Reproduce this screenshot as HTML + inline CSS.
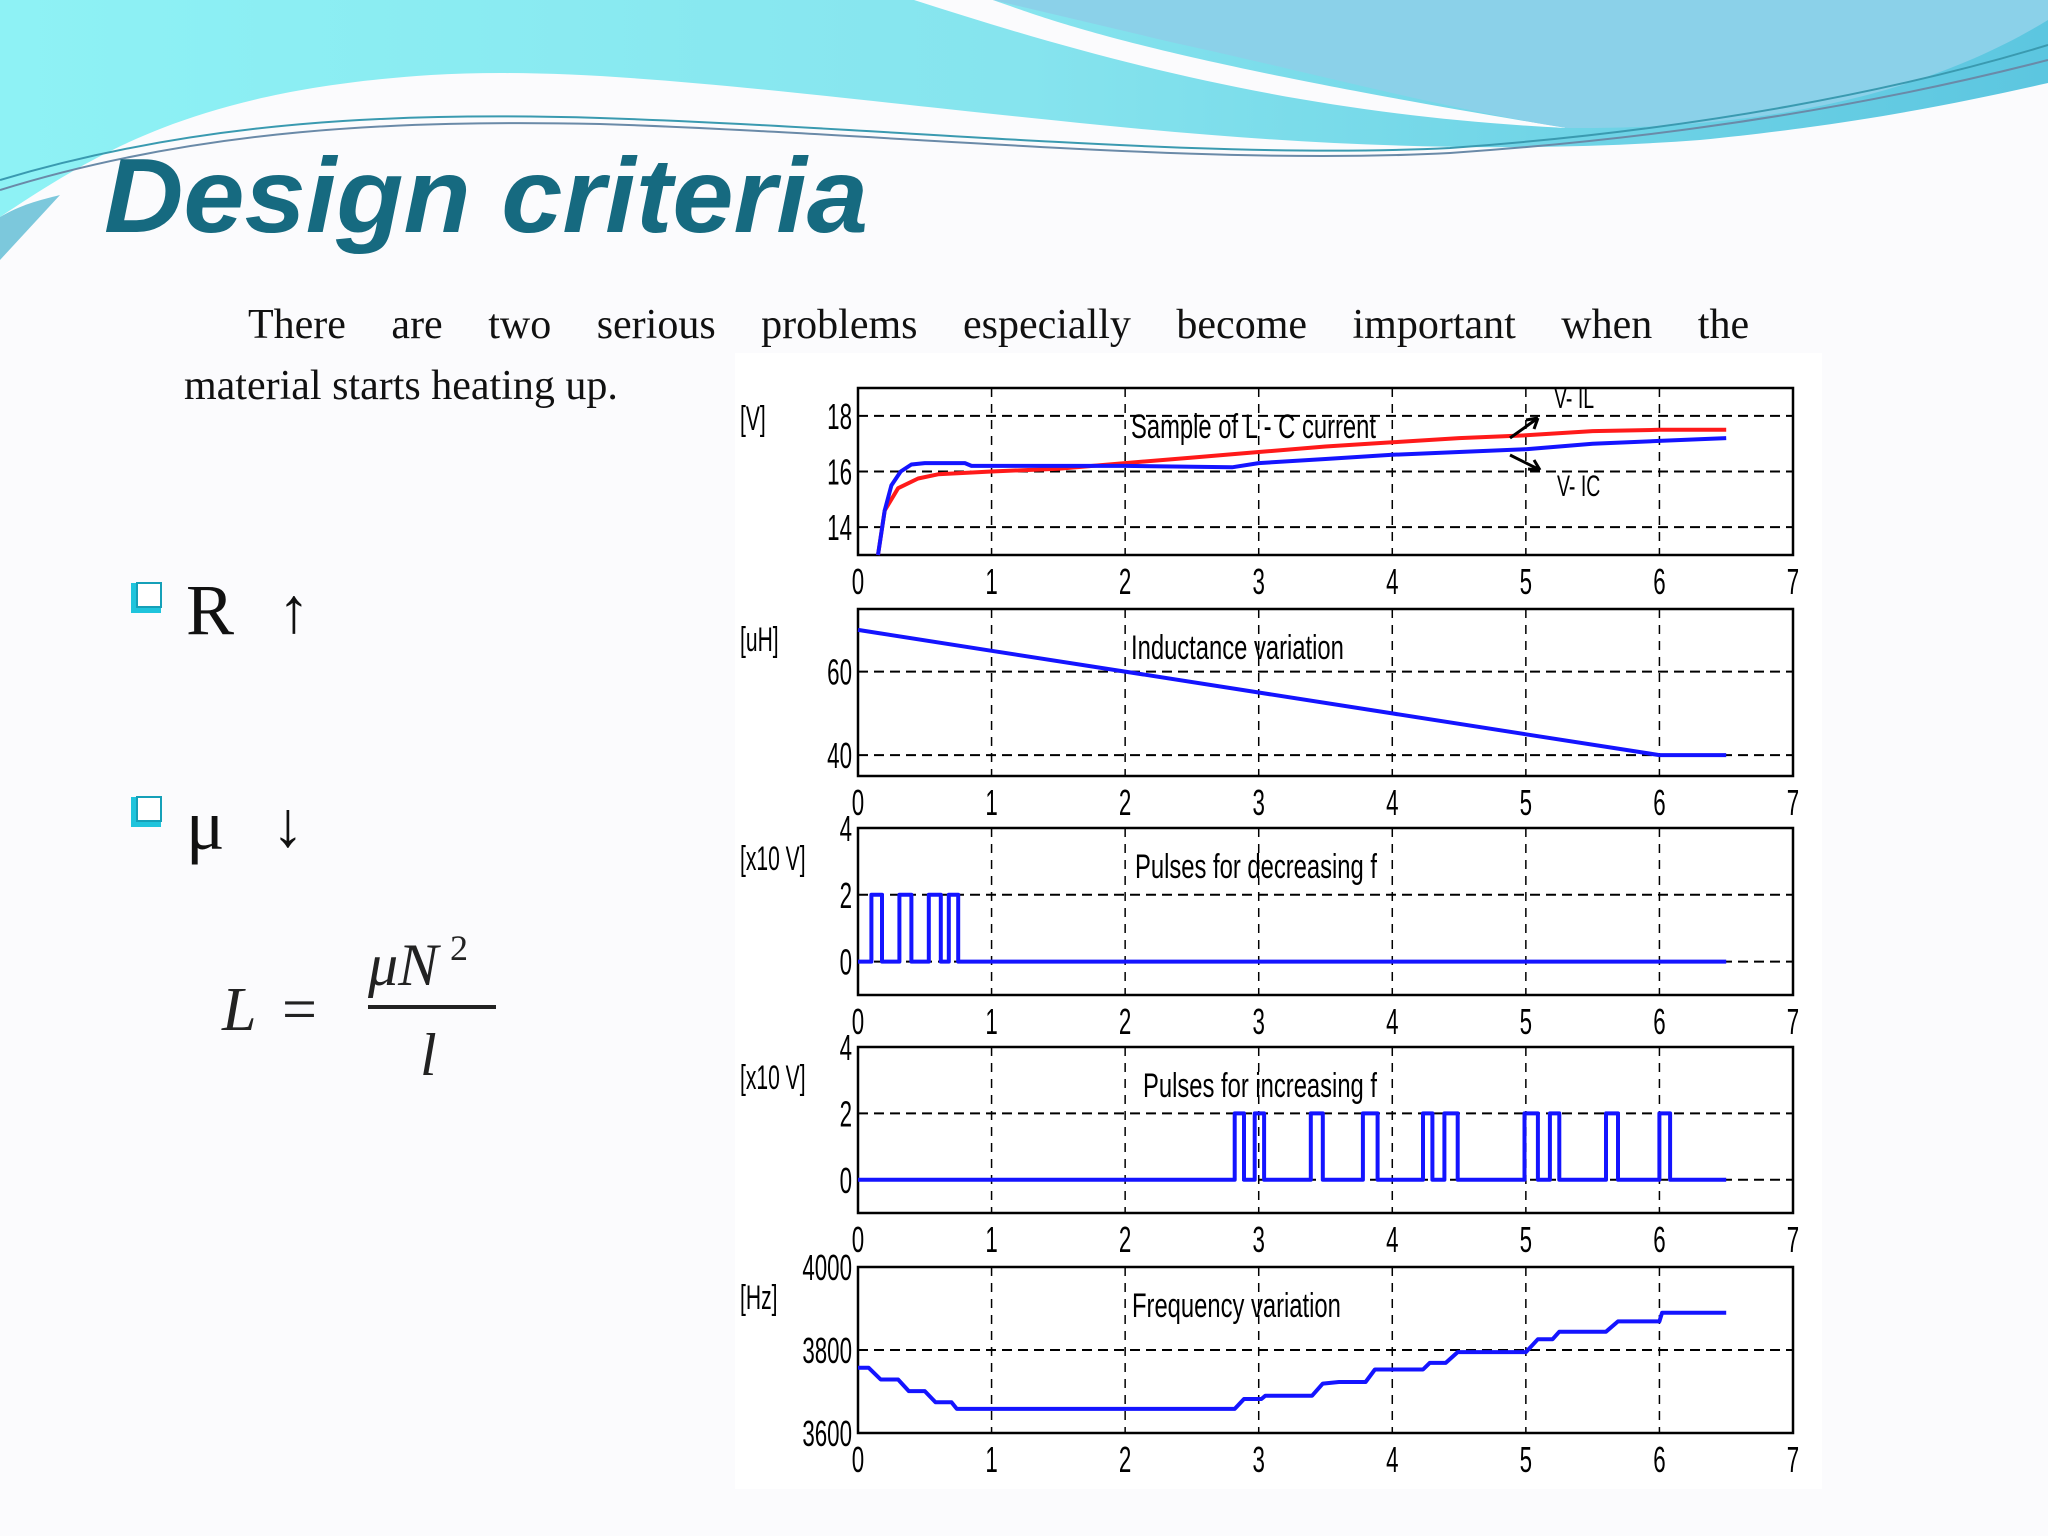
<!DOCTYPE html>
<html><head><meta charset="utf-8"><style>
html,body{margin:0;padding:0;background:#fbfbfd;}
svg{display:block;}
.t{font-family:"Liberation Sans",sans-serif;}
</style></head><body>
<svg id="page" width="2048" height="1536" viewBox="0 0 2048 1536" xmlns="http://www.w3.org/2000/svg">
<defs>
<linearGradient id="cy" x1="0" y1="0" x2="1" y2="0"><stop offset="0" stop-color="#8ef2f5"/><stop offset="0.5" stop-color="#86e4ee"/><stop offset="1" stop-color="#5cc6e0"/></linearGradient>
</defs>
<rect width="2048" height="1536" fill="#fbfbfd"/>
<g>
<path d="M0,0 L2048,0 L2048,83 C1950,105 1850,125 1700,140 C1500,155 1300,145 1100,125 C800,95 600,65 431,75 C200,90 100,150 0,217 Z" fill="url(#cy)"/>
<path d="M914,0 L993,0 C1050,20 1150,60 1567,128 C1300,115 1100,60 914,0 Z" fill="#fbfbfd"/>
<path d="M993,0 L2048,0 L2048,20 C1950,80 1800,130 1567,128 C1450,110 1300,70 1175,43 Z" fill="#8bd1e9"/>
<path d="M0,180 C200,120 400,112 600,118 C900,128 1200,160 1450,148 C1700,130 1900,90 2048,45" fill="none" stroke="#3a9ab0" stroke-width="2"/>
<path d="M0,190 C200,128 400,120 600,124 C900,134 1200,166 1450,153 C1700,136 1900,98 2048,60" fill="none" stroke="#6a8aa8" stroke-width="2"/>
<path d="M0,217 C20,205 40,200 60,195 L0,260 Z" fill="#7cc8dc"/>
</g>
<text x="104" y="232" font-family="Liberation Sans, sans-serif" font-weight="bold" font-style="italic" font-size="106" fill="#166a80" textLength="764" lengthAdjust="spacingAndGlyphs">Design criteria</text>
<text x="248" y="338" font-family="Liberation Serif, serif" font-size="42" fill="#111" word-spacing="35">There are two serious problems especially become important when the</text>
<text x="184" y="399" font-family="Liberation Serif, serif" font-size="42" fill="#111">material starts heating up.</text>
<g>
<rect x="131" y="583" width="30" height="30" fill="#1fc4dc"/><rect x="137" y="583" width="24" height="24" fill="#fff" stroke="#15a0b8" stroke-width="2"/>
<text x="186" y="634" font-family="Liberation Serif, serif" font-size="72" fill="#111">R</text>
<text x="278" y="632" font-family="Liberation Serif, serif" font-size="64" fill="#111">↑</text>
</g>
<g>
<rect x="131" y="797" width="30" height="30" fill="#1fc4dc"/><rect x="137" y="797" width="24" height="24" fill="#fff" stroke="#15a0b8" stroke-width="2"/>
<text x="186" y="849" font-family="Liberation Serif, serif" font-size="72" fill="#111">μ</text>
<text x="272" y="846" font-family="Liberation Serif, serif" font-size="64" fill="#111">↓</text>
</g>
<g font-family="Liberation Serif, serif" font-style="italic" fill="#222">
<text x="222" y="1030" font-size="62">L</text>
<text x="282" y="1030" font-size="62" font-style="normal">=</text>
<text x="368" y="985" font-size="60">μN</text>
<text x="450" y="960" font-size="36" font-style="normal">2</text>
<rect x="368" y="1005" width="128" height="4" fill="#222"/>
<text x="420" y="1075" font-size="60">l</text>
</g>
<rect x="735" y="353" width="1087" height="1136" fill="#fff"/>
<g id="charts"></g>
</svg>
<script>
// ---- data ----
const xTicks = [0,1,2,3,4,5,6,7];
const ilT = [0.15,0.2,0.3,0.45,0.6,0.8,1.0,1.5,2.0,2.5,3.0,3.5,4.0,4.5,5.0,5.5,6.0,6.5];
const ilV = [13.0,14.6,15.4,15.75,15.9,15.95,16.0,16.1,16.3,16.5,16.7,16.9,17.05,17.2,17.3,17.45,17.5,17.5];
const icT = [0.15,0.2,0.25,0.32,0.4,0.5,0.8,0.85,1.5,2.0,2.8,3.0,3.5,4.0,4.5,5.0,5.5,6.0,6.5];
const icV = [13.0,14.6,15.5,16.0,16.25,16.3,16.3,16.2,16.2,16.2,16.15,16.3,16.45,16.6,16.7,16.8,17.0,17.1,17.2];
const indT = [0,1,2,3,4,5,6,6.5];
const indV = [70,65,60,55,50,45,40,40];
const decPulses = [[0.1,0.18],[0.31,0.40],[0.53,0.62],[0.68,0.75]];
const incPulses = [[2.82,2.89],[2.97,3.04],[3.39,3.48],[3.78,3.89],[4.23,4.30],[4.39,4.49],[4.99,5.09],[5.18,5.25],[5.60,5.69],[6.00,6.08]];
const freqT = [0,0.08,0.17,0.3,0.38,0.5,0.58,0.7,0.74,2.82,2.89,3.02,3.05,3.4,3.48,3.6,3.8,3.87,4.23,4.28,4.4,4.49,5.0,5.09,5.2,5.25,5.6,5.69,6.0,6.02,6.5];
const freqV = [3757,3757,3729,3729,3701,3701,3674,3674,3658,3658,3682,3682,3690,3690,3719,3723,3723,3753,3753,3769,3769,3795,3795,3826,3826,3844,3844,3869,3869,3890,3890];

const NS = 'http://www.w3.org/2000/svg';
const root = document.getElementById('charts');
const X0 = 858, X1 = 1793, XMAX = 7;
function sx(v){ return X0 + (X1 - X0) * v / XMAX; }
function mk(tag, attrs, parent){ const e = document.createElementNS(NS, tag); for (const k in attrs) e.setAttribute(k, attrs[k]); (parent||root).appendChild(e); return e; }
function txt(parent, x, y, s, size, sc, anchor){
  const e = mk('text', {x:0, y:0, 'font-size':size, class:'t', 'text-anchor':anchor||'start', transform:'translate(' + x + ',' + y + ') scale(' + sc + ',1)'}, parent);
  e.textContent = s;
  return e;
}

function makePlot(name, top, bot, ymin, ymax, yTicks, yLabels, unit, title, tx){
  const g = mk('g', {});
  
  
  const sy = v => bot - (bot - top) * (v - ymin) / (ymax - ymin);
  xTicks.forEach(t => {
    if (t > 0 && t < 7) { const l = mk('line', {x1:sx(t), x2:sx(t), y1:top, y2:bot, stroke:'#000', 'stroke-width':1.5, 'stroke-dasharray':'9 7'}, g);
        }
    const tl = txt(g, sx(t), bot + 39, String(t), 36, 0.62, 'middle');
     
  });
  yTicks.forEach((t, i) => {
    if (t > ymin && t < ymax) { const l = mk('line', {x1:X0, x2:X1, y1:sy(t), y2:sy(t), stroke:'#000', 'stroke-width':2, 'stroke-dasharray':'10 6'}, g);
        }
    const tl = txt(g, X0 - 6, sy(t) + 13, yLabels[i], 36, 0.62, 'end');
     
  });
  const fr = mk('rect', {x:X0, y:top, width:X1-X0, height:bot-top, fill:'none', stroke:'#000', 'stroke-width':2.5}, g);
   
  const u = txt(g, 740, top + 42, unit, 34, 0.62);
   
  const tt = txt(g, tx, top + 50, title, 34, 0.7);
   
  return {g, sy};
}
function line(p, ts, vs, color, name, w){
  const pts = ts.map((t, i) => sx(t).toFixed(1) + ',' + p.sy(vs[i]).toFixed(1)).join(' ');
  const l = mk('polyline', {points:pts, fill:'none', stroke:color, 'stroke-width':w||4, 'stroke-linejoin':'round'}, p.g);
   
}
function pulses(p, list, name){
  const ts = [0], vs = [0];
  list.forEach(([a, b]) => { ts.push(a, a, b, b); vs.push(0, 2, 2, 0); });
  ts.push(6.5); vs.push(0);
  line(p, ts, vs, '#1414ff', name, 4);
}

// plot 1
const p1 = makePlot('lc-current-plot', 388, 555, 13, 19, [14,16,18], ['14','16','18'], '[V]', 'Sample of L - C current', 1131);
line(p1, ilT, ilV, '#ff1a1a', 'series-v-il');
line(p1, icT, icV, '#1414ff', 'series-v-ic');
const a1 = txt(p1.g, 1554, 408, 'V- IL', 30, 0.65);
 
const a2 = txt(p1.g, 1557, 496, 'V- IC', 30, 0.65);
 
const ar1 = mk('path', {d:'M1510,438 L1538,418 M1538,418 l-12,2 m12,-2 l-4,11', stroke:'#000', 'stroke-width':3, fill:'none'}, p1.g);
 
const ar2 = mk('path', {d:'M1510,455 L1540,470 M1540,470 l-12,-1 m12,1 l-6,-10', stroke:'#000', 'stroke-width':3, fill:'none'}, p1.g);
 

// plot 2
const p2 = makePlot('inductance-plot', 609, 776, 35, 75, [40,60], ['40','60'], '[uH]', 'Inductance variation', 1131);
line(p2, indT, indV, '#1414ff', 'series-inductance');

// plot 3
const p3 = makePlot('decreasing-pulses-plot', 828, 995, -1, 4, [0,2,4], ['0','2','4'], '[x10 V]', 'Pulses for decreasing f', 1135);
pulses(p3, decPulses, 'series-decreasing-pulses');

// plot 4
const p4 = makePlot('increasing-pulses-plot', 1047, 1213, -1, 4, [0,2,4], ['0','2','4'], '[x10 V]', 'Pulses for increasing  f', 1143);
pulses(p4, incPulses, 'series-increasing-pulses');

// plot 5
const p5 = makePlot('frequency-plot', 1267, 1433, 3600, 4000, [3600,3800,4000], ['3600','3800','4000'], '[Hz]', 'Frequency variation', 1132);
line(p5, freqT, freqV, '#1414ff', 'series-frequency');
</script>
</body></html>
